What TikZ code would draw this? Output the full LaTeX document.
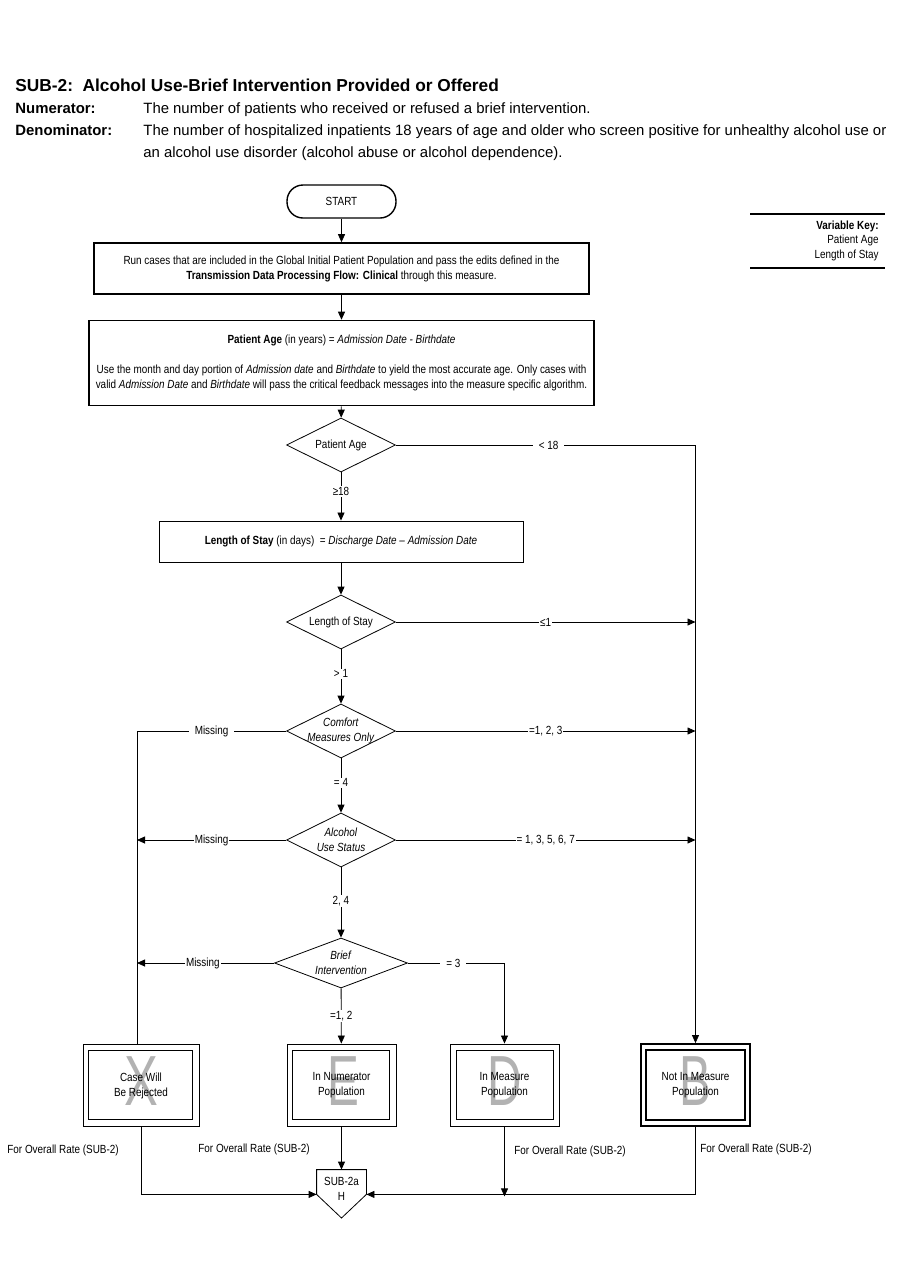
\documentclass[tikz,border=0pt]{standalone}
\usepackage{fontspec}
\setmainfont[FakeStretch=0.84]{Liberation Sans}
\newfontfamily\hdrfont{Liberation Sans}
\usetikzlibrary{arrows.meta,shapes.geometric}
\begin{document}
\begin{tikzpicture}[x=1pt,y=-1pt,line width=0.8pt,
  every node/.style={inner sep=0pt,font=\fontsize{11.8}{15}\selectfont},
  hdr/.style={font=\hdrfont\fontsize{14.9}{22}\selectfont,anchor=base west},
  hdrb/.style={font=\hdrfont\fontsize{14.9}{22}\selectfont\bfseries,anchor=base west},
  proc/.style={draw,line width=1.6pt,fill=white},
  thinproc/.style={draw,line width=0.9pt,fill=white},
  decision/.style={draw,diamond,line width=0.8pt,fill=white},
  term/.style={draw,rounded corners=16pt,line width=1.4pt,fill=white,minimum width=109pt,minimum height=33pt},
  endbox/.style={draw,line width=0.9pt,fill=white,minimum width=109pt,minimum height=82pt},
  inner/.style={line width=1.4pt},
  bigltr/.style={text=black!30,font=\fontsize{71}{71}\selectfont},
  lbl/.style={fill=white,inner sep=1pt},
  arr/.style={-{Triangle[length=8pt,width=7pt]}},
  keytxt/.style={anchor=mid east}]
\useasboundingbox (0,0) rectangle (900,1286);

% header
\node[anchor=base west,font=\hdrfont\fontsize{17.3}{20}\selectfont\bfseries] (title) at (15,91) {SUB-2:\ \ Alcohol Use-Brief Intervention Provided or Offered};
\node[hdrb] (numl) at (15,113) {Numerator:};
\node[hdr] (numt) at (143,113) {The number of patients who received or refused a brief intervention.};
\node[hdrb] (denl) at (15,135) {Denominator:};
\node[hdr] (dent1) at (143,135) {The number of hospitalized inpatients 18 years of age and older who screen positive for unhealthy alcohol use or};
\node[hdr] (dent2) at (143,157) {an alcohol use disorder (alcohol abuse or alcohol dependence).};

% variable key
\draw[line width=1.2pt] (750,214) -- (885,214);
\draw[line width=1.2pt] (750,268) -- (885,268);
\node[keytxt] (vk) at (879,227) {\textbf{Variable Key:}};
\node[keytxt] (vk1) at (879,241) {Patient Age};
\node[keytxt] (vk2) at (879,256) {Length of Stay};

% flow
\node[term] (start) at (341.5,201.5) {START};
\node[proc,minimum width=495pt,minimum height=51pt,align=center] (b1) at (341.5,268.5)
  {Run cases that are included in the Global Initial Patient Population and pass the edits defined in the\\
   \textbf{Transmission Data Processing Flow: Clinical} through this measure.};
\node[proc,minimum width=505pt,minimum height=85pt,align=center] (b2) at (341.5,363)
  {\textbf{Patient Age} (in years) = \textit{Admission Date - Birthdate}\\[15pt]
   Use the month and day portion of \textit{Admission date} and \textit{Birthdate} to yield the most accurate age. Only cases with\\
   valid \textit{Admission Date} and \textit{Birthdate} will pass the critical feedback messages into the measure specific algorithm.};
\node[decision,minimum width=109pt,minimum height=54pt] (d1) at (341,445) {};
\node at (d1) {Patient Age};
\node[thinproc,minimum width=364pt,minimum height=41pt] (los) at (341,541.5)
  {\textbf{Length of Stay} (in days)\ \ = \textit{Discharge Date -- Admission Date}};
\node[decision,minimum width=109pt,minimum height=54pt] (d2) at (341,622) {};
\node at (d2) {Length of Stay};
\node[decision,minimum width=109pt,minimum height=54pt] (d3) at (341,731) {};
\node[align=center] at (d3) {\textit{Comfort}\\\textit{Measures Only}};
\node[decision,minimum width=109pt,minimum height=54pt] (d4) at (341,840) {};
\node[align=center] at (d4) {\textit{Alcohol}\\\textit{Use Status}};
\node[decision,minimum width=133pt,minimum height=50pt] (d5) at (341,963) {};
\node[align=center] at (d5) {\textit{Brief}\\\textit{Intervention}};

% end boxes
\node[endbox,minimum width=116pt] (X) at (141,1085) {};
\draw[inner] ([shift={(6,7)}]X.north west) rectangle ([shift={(-7,-7)}]X.south east);
\node[endbox] (E) at (341.5,1085) {};
\draw[inner] ([shift={(6,7)}]E.north west) rectangle ([shift={(-7,-7)}]E.south east);
\node[endbox] (D) at (504.5,1085) {};
\draw[inner] ([shift={(7,7)}]D.north west) rectangle ([shift={(-6,-7)}]D.south east);
\node[endbox,line width=1.8pt] (B) at (695.5,1085) {};
\draw[line width=2.6pt] ([shift={(6,7)}]B.north west) rectangle ([shift={(-6,-7)}]B.south east);

\node[bigltr] (lx) at (141,1081) {\scalebox{0.85}[1]{X}};
\node[bigltr] (le) at (343,1081) {\scalebox{0.8}[1]{E}};
\node[bigltr] (ld) at (505,1081) {\scalebox{0.8}[1]{D}};
\node[bigltr] (lb) at (695,1081) {\scalebox{0.8}[1]{B}};

\node[align=center] (tx) at (141,1085.5) {Case Will\\Be Rejected};
\node[align=center] (te) at (341.5,1085.5) {In Numerator\\Population};
\node[align=center] (td) at (504.5,1085.5) {In Measure\\Population};
\node[align=center] (tb) at (695.5,1085.5) {Not In Measure\\Population};

% pentagon
\node[minimum width=49pt,minimum height=24pt] (sub) at (341.5,1182) {};
\coordinate (subtip) at (341.5,1218);
\draw[line width=0.8pt,fill=white] (sub.north west) -- (sub.north east) -- (sub.south east) -- (subtip) -- (sub.south west) -- cycle;
\node[align=center] (subt) at (341.5,1188.5) {SUB-2a\\H};

% connectors
\draw[arr] (start) -- (b1);
\draw[arr] (b1) -- (b2);
\draw[arr] (b2) -- (d1);
\draw[arr] (d1) -- node[lbl,pos=0.4]{≥18} (los);
\draw[arr] (los) -- (d2);
\draw[arr] (d2) -- node[lbl,pos=0.45]{> 1} (d3);
\draw[arr] (d3) -- node[lbl,pos=0.45]{= 4} (d4);
\draw[arr] (d4) -- node[lbl,pos=0.48]{2, 4} (d5);
\draw[arr] (d5) -- node[lbl,pos=0.5]{=1, 2} (E);

\coordinate (lx0) at (137,731);
\draw (d3.west) -- node[lbl,inner xsep=6pt,pos=0.5]{Missing} (lx0) -- (lx0 |- X.north);
\draw[arr] (d4.west) -- node[lbl,pos=0.5]{Missing} (lx0 |- d4.west);
\draw[arr] (d5.west) -- node[lbl,pos=0.52]{Missing} (lx0 |- d5.west);

\draw[arr] (d1.east) -- node[lbl,inner xsep=6pt,pos=0.51]{< 18} (B.north |- d1.east) -- (B.north);
\draw[arr] (d2.east) -- node[lbl,pos=0.5]{≤1} (B.north |- d2.east);
\draw[arr] (d3.east) -- node[lbl,pos=0.5]{=1, 2, 3} (B.north |- d3.east);
\draw[arr] (d4.east) -- node[lbl,pos=0.5]{= 1, 3, 5, 6, 7} (B.north |- d4.east);
\draw[arr] (d5.east) -- node[lbl,inner xsep=6pt,pos=0.47]{= 3} (D.north |- d5.east) -- (D.north);

\draw[arr] (E) -- (sub);
\draw[arr] (X.south) -- (X.south |- sub.south west) -- (sub.south west);
\draw[arr] (B.south) -- (B.south |- sub.south east) -- (sub.south east);
\draw[arr] (D.south) -- ([yshift=-2pt]D.south |- sub.south);

\node[anchor=mid west] (f1) at (7,1151) {For Overall Rate (SUB-2)};
\node[anchor=mid west] (f2) at (198,1150) {For Overall Rate (SUB-2)};
\node[anchor=mid west] (f3) at (514,1152) {For Overall Rate (SUB-2)};
\node[anchor=mid west] (f4) at (700,1150) {For Overall Rate (SUB-2)};
\end{tikzpicture}
\end{document}
